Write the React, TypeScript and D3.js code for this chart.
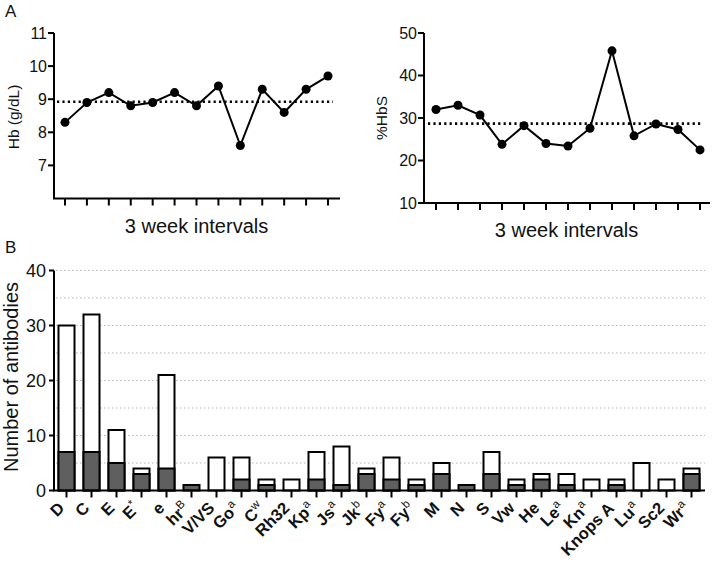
import React, { useMemo } from "react";
import * as d3 from "d3";

// Panel A: 13 consecutive 3-week intervals
const hbValues = [8.3, 8.9, 9.2, 8.8, 8.9, 9.2, 8.8, 9.4, 7.6, 9.3, 8.6, 9.3, 9.7];
const hbsValues = [32, 33, 30.7, 23.8, 28.2, 24, 23.4, 27.6, 45.8, 25.8, 28.6, 27.3, 22.5];
const hbTicks = [7, 8, 9, 10, 11];
const hbsTicks = [10, 20, 30, 40, 50];

// Panel B: antibody specificities
const antigenNames = ["D", "C", "E", "E", "e", "hr", "V/VS", "Go", "C", "Rh32", "Kp", "Js", "Jk", "Fy", "Fy", "M", "N", "S", "Vw", "He", "Le", "Kn", "Knops A", "Lu", "Sc2", "Wr"];
const antigenSups = ["", "", "", "*", "", "B", "", "a", "w", "", "a", "a", "b", "a", "b", "", "", "", "", "", "a", "a", "", "a", "", "a"];
const totalAntibodies = [30, 32, 11, 4, 21, 1, 6, 6, 2, 2, 7, 8, 4, 6, 2, 5, 1, 7, 2, 3, 3, 2, 2, 5, 2, 4];
const darkAntibodies = [7, 7, 5, 3, 4, 1, 0, 2, 1, 0, 2, 1, 3, 2, 1, 3, 1, 3, 1, 2, 1, 0, 1, 0, 0, 3];
const countTicks = [0, 10, 20, 30, 40];
const gridTicks = [5, 10, 15, 20, 25, 30, 35, 40];

const FONT = "'Liberation Sans', Arial, Helvetica, sans-serif";
const LABEL_SIZE = 16.5;
const SUP_SIZE = 11.5;

// text widths from a canvas, so labels can be centred on their slant
function measure(str, font) {
  if (!str) return 0;
  const ctx = document.createElement("canvas").getContext("2d");
  if (!ctx) return str.length * 9;
  ctx.font = font;
  return ctx.measureText(str).width;
}

function LinePanel({ values, domain, ticks, axisX, axisEnd, yTop, yBottom, pointRange, meanRange, yLabel, yLabelX, yLabelY, xLabelX, xLabelY, tickLabelX }) {
  const x = d3.scalePoint().domain(values.map((v, i) => i)).range(pointRange);
  const y = d3.scaleLinear().domain(domain).range([yBottom, yTop]);
  const line = d3.line().x((d, i) => x(i)).y((d) => y(d));
  const mean = d3.mean(values);

  return (
    <g>
      {/* mean line */}
      <line x1={meanRange[0]} x2={meanRange[1]} y1={y(mean)} y2={y(mean)} stroke="#000" strokeWidth={2.6} strokeDasharray="2.2,3.2" />
      <path d={line(values)} fill="none" stroke="#000" strokeWidth={2} />
      {values.map((v, i) => (
        <circle key={i} cx={x(i)} cy={y(v)} r={4.5} fill="#000" />
      ))}
      {/* axes */}
      <line x1={axisX} x2={axisX} y1={yTop} y2={yBottom} stroke="#000" strokeWidth={2} />
      <line x1={axisX - 1} x2={axisEnd} y1={yBottom} y2={yBottom} stroke="#000" strokeWidth={2} />
      {ticks.map((t) => (
        <g key={t}>
          <line x1={axisX - 6} x2={axisX} y1={y(t)} y2={y(t)} stroke="#000" strokeWidth={2} />
          <text x={tickLabelX} y={y(t)} dy="0.36em" textAnchor="end" fontSize={16} fill="#111">{t}</text>
        </g>
      ))}
      {values.map((v, i) => (
        <line key={i} x1={x(i)} x2={x(i)} y1={yBottom} y2={yBottom + 7} stroke="#000" strokeWidth={2} />
      ))}
      <g transform={`translate(${yLabelX},${yLabelY}) rotate(-90)`}>
        <text x={0} y={0} textAnchor="middle" fontSize={15.5} fill="#111">{yLabel}</text>
      </g>
      <text x={xLabelX} y={xLabelY} textAnchor="middle" fontSize={20} fill="#111">3 week intervals</text>
    </g>
  );
}

function BarPanel() {
  const x = d3.scaleBand().domain(antigenNames.map((n, i) => i)).range([54, 704]).paddingInner(0.36).paddingOuter(0.18);
  const y = d3.scaleLinear().domain([0, 40]).range([490.5, 270.5]);
  const c = Math.SQRT1_2;

  const widths = useMemo(
    () =>
      antigenNames.map((n, i) => ({
        base: measure(n, `bold ${LABEL_SIZE}px ${FONT}`),
        sup: measure(antigenSups[i], `${SUP_SIZE}px ${FONT}`),
      })),
    []
  );

  return (
    <g>
      {gridTicks.map((t) => (
        <line key={t} x1={56} x2={705} y1={y(t)} y2={y(t)} stroke="#b5b5b5" strokeWidth={1.2} strokeDasharray="1.5,2.5" />
      ))}
      {totalAntibodies.map((v, i) => (
        <g key={i}>
          {v > darkAntibodies[i] && (
            <rect x={x(i)} y={y(v)} width={x.bandwidth()} height={y(0) - y(v)} fill="#fff" stroke="#000" strokeWidth={2} />
          )}
          {darkAntibodies[i] > 0 && (
            <rect x={x(i)} y={y(darkAntibodies[i])} width={x.bandwidth()} height={y(0) - y(darkAntibodies[i])} fill="#5f5f5f" stroke="#000" strokeWidth={2} />
          )}
        </g>
      ))}
      {/* axes */}
      <line x1={54} x2={54} y1={y(40)} y2={y(0)} stroke="#000" strokeWidth={2} />
      <line x1={53} x2={705} y1={y(0)} y2={y(0)} stroke="#000" strokeWidth={2} />
      {countTicks.map((t) => (
        <g key={t}>
          <line x1={49} x2={54} y1={y(t)} y2={y(t)} stroke="#000" strokeWidth={2} />
          <text x={46} y={y(t)} dy="0.36em" textAnchor="end" fontSize={18} fill="#111">{t}</text>
        </g>
      ))}
      {antigenNames.map((n, i) => {
        const cx = x(i) + x.bandwidth() / 2;
        const sup = antigenSups[i];
        const wb = widths[i].base;
        const ws = sup ? widths[i].sup + 0.5 : 0;
        // label ends just below the tick; centre of the bold part sits back along the slant
        const back = ws + wb / 2;
        const mx = cx - 1 - back * c;
        const my = 509 + back * c;
        return (
          <g key={i}>
            <line x1={cx} x2={cx} y1={y(0)} y2={y(0) + 7} stroke="#000" strokeWidth={2} />
            <g transform={`translate(${mx},${my}) rotate(-45)`}>
              <text x={0} y={0} textAnchor="middle" fontSize={LABEL_SIZE} fontWeight="bold" fill="#111">{n}</text>
            </g>
            {sup ? (
              <g transform={`translate(${mx},${my}) rotate(-45)`}>
                <text x={wb / 2 + ws / 2} y={-6.5} textAnchor="middle" fontSize={SUP_SIZE} fill="#111">{sup}</text>
              </g>
            ) : null}
          </g>
        );
      })}
      <g transform="translate(18,377) rotate(-90)">
        <text x={0} y={0} textAnchor="middle" fontSize={20} fill="#111">Number of antibodies</text>
      </g>
    </g>
  );
}

export default function App() {
  return (
    <svg width={712} height={562} style={{ position: "absolute", left: 0, top: 0, background: "#fff" }} fontFamily={FONT}>
      <rect width={712} height={562} fill="#fff" />
      <text x={5} y={17} fontSize={17} fill="#111">A</text>
      <text x={5} y={253} fontSize={17} fill="#111">B</text>
      <LinePanel values={hbValues} domain={[6, 11]} ticks={hbTicks} axisX={54} axisEnd={340} yTop={33} yBottom={198.5}
        pointRange={[65, 328]} meanRange={[57, 333]} yLabel="Hb (g/dL)" yLabelX={19} yLabelY={117}
        xLabelX={196.5} xLabelY={233} tickLabelX={47} />
      <LinePanel values={hbsValues} domain={[10, 50]} ticks={hbsTicks} axisX={424} axisEnd={710} yTop={33} yBottom={203}
        pointRange={[436, 700]} meanRange={[428, 703]} yLabel="%HbS" yLabelX={387} yLabelY={118}
        xLabelX={566.5} xLabelY={237} tickLabelX={417} />
      <BarPanel />
    </svg>
  );
}
